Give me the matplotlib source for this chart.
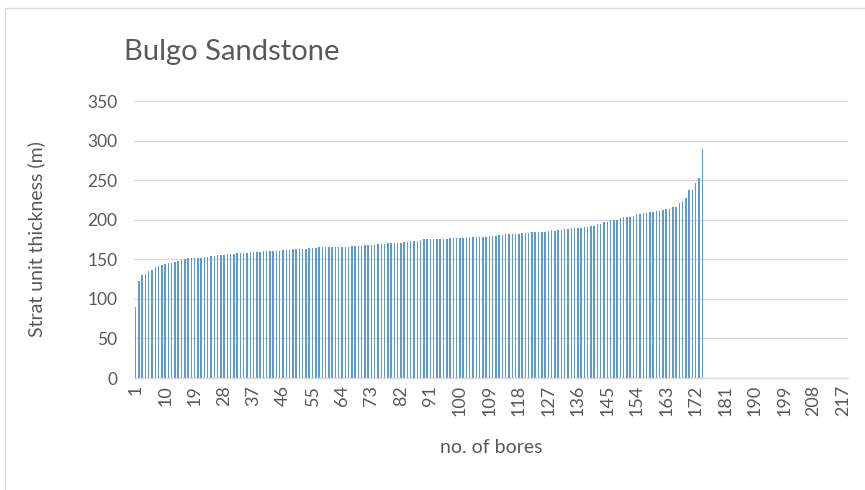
"""
Bulgo Sandstone strat unit thickness, sorted by bore
"""
import matplotlib.pyplot as plt
from matplotlib.patches import Rectangle

plt.rcParams['font.family'] = ['Lato', 'DejaVu Sans']

# thickness per bore (m), sorted ascending
thickness = [
    90, 122, 130, 131, 135, 137, 140, 141, 143, 144, 145, 145, 146, 148, 149,
    150, 151, 151, 151, 152, 152, 153, 153, 154, 154, 155,
    156, 156, 157, 157, 157, 158, 158, 158, 158, 159, 159, 159, 159, 160, 160,
    160, 161, 161, 161, 162, 162, 162, 163, 163, 163,
    163, 163, 164, 164, 164, 165, 165, 165, 165, 166, 166, 166, 166, 166, 166,
    167, 167, 167, 167, 168, 168, 168, 168, 169, 169, 169,
    170, 171, 171, 171, 171, 172, 172, 173, 173, 173, 174, 175, 175, 175, 176,
    176, 176, 176, 176, 177, 177, 177, 177, 177, 178,
    178, 178, 178, 178, 178, 178, 179, 179, 180, 181, 181, 182, 182, 182, 182,
    182, 183, 183, 183, 184, 184, 184, 185, 185, 186, 187,
    186, 187, 187, 188, 188, 189, 189, 189, 190, 191, 191, 192, 192, 194, 195,
    197, 197, 200, 200, 200, 202, 203, 203, 204, 205,
    207, 207, 208, 209, 210, 210, 211, 211, 212, 213, 214, 216, 216, 221, 224,
    227, 238, 238, 246, 253, 289,
]
n_categories = 218  # axis runs past the last bore
tick_labels = ['1', '10', '19', '28', '37', '46', '55', '64', '73', '82',
               '91', '100', '109', '118', '127', '136', '145', '154', '163',
               '172', '181', '190', '199', '208', '217']
y_ticks = [0, 50, 100, 150, 200, 250, 300, 350]

fig = plt.figure(figsize=(8.65, 4.9), dpi=100)
# chart frame
fig.patches.append(Rectangle((5 / 865, -0.01), 870 / 865, 1 - 8 / 490 + 0.01,
                             transform=fig.transFigure, fill=False,
                             edgecolor='#D9D9D9', linewidth=1))
ax = fig.add_axes([134 / 865, 1 - 378 / 490, 714 / 865, 277 / 490])

bores = list(range(1, len(thickness) + 1))
ax.bar(bores, thickness, width=0.45, color='#5B9BD5', zorder=2)

ax.set_xlim(0.5, n_categories + 0.5)
ax.set_ylim(0, 350)
ax.set_yticks(y_ticks)
ax.set_xticks([int(t) for t in tick_labels])
ax.set_xticklabels(tick_labels, rotation=90, fontsize=13, color='#595959')
ax.tick_params(axis='y', length=0, pad=12, labelsize=12.5, labelcolor='#595959')
ax.tick_params(axis='x', length=0, pad=5)
ax.grid(axis='y', color='#D9D9D9', linewidth=1, zorder=0)
for s in ['top', 'right', 'left']:
    ax.spines[s].set_visible(False)
ax.spines['bottom'].set_color('#D9D9D9')
ax.spines['bottom'].set_linewidth(1)

ax.set_xlabel('no. of bores', fontsize=14, color='#595959', labelpad=16)
ax.set_ylabel('Strat unit thickness (m)', fontsize=14, color='#595959',
              labelpad=30)
fig.text(124 / 865, 1 - 52 / 490, 'Bulgo Sandstone', fontsize=21,
         color='#595959', va='center', ha='left')

fig.savefig('out.png', dpi=100)
